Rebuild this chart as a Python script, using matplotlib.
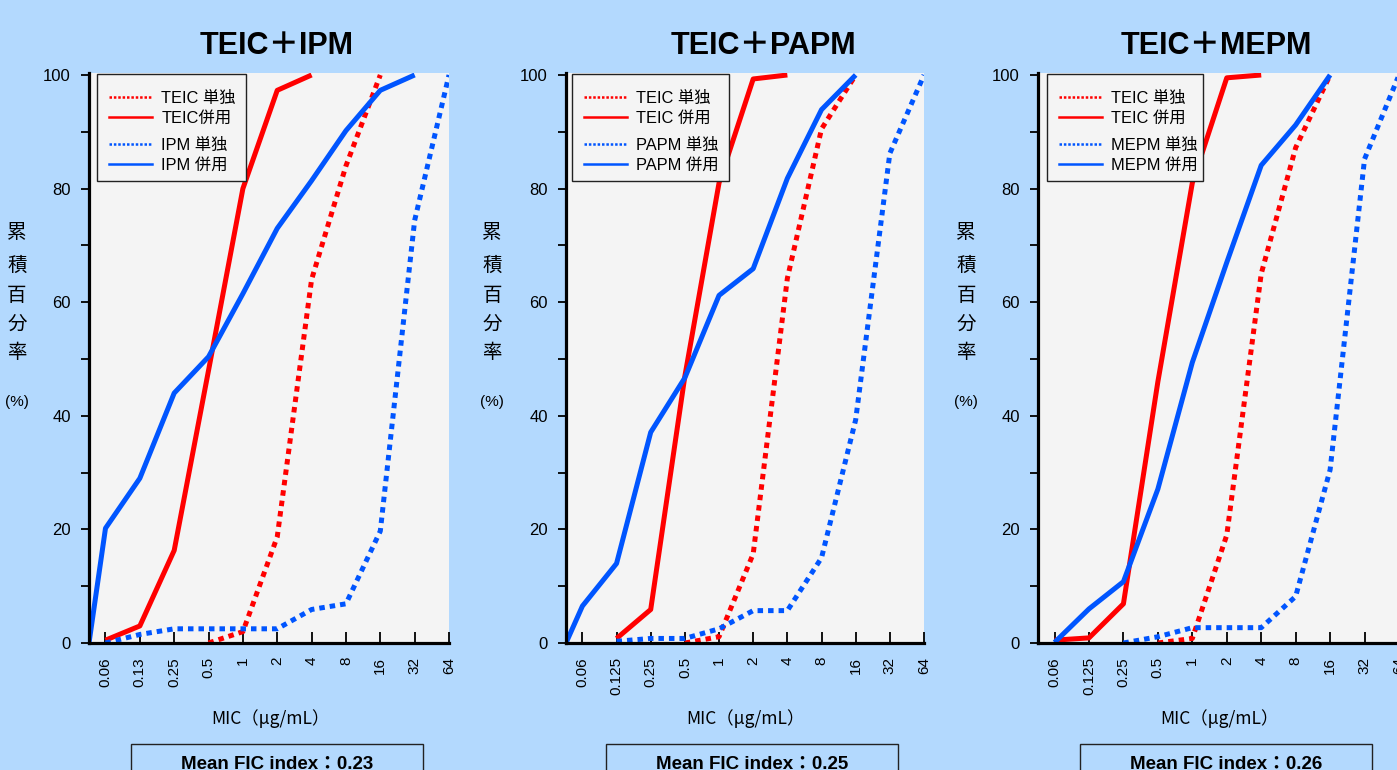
import numpy as np
import matplotlib.pyplot as plt
from matplotlib.lines import Line2D
from matplotlib.patches import Rectangle

plt.rcParams['font.family'] = ['Liberation Sans', 'Noto Sans CJK JP', 'DejaVu Sans']

W, H = 1397, 770
BG = '#b3d9fe'
PLOT_BG = '#f4f4f4'
RED = '#ff0000'
BLUE = '#0055ff'

nan = np.nan

# x categories, MIC (ug/mL)
ticks_ipm = ['0.06', '0.13', '0.25', '0.5', '1', '2', '4', '8', '16', '32', '64']
ticks_other = ['0.06', '0.125', '0.25', '0.5', '1', '2', '4', '8', '16', '32', '64']

# cumulative % ; first value sits on the y axis, then one value per category
ipm_teic_alone = [nan, nan, nan, nan, 0, 2, 18.7, 64, 84, 100, nan, nan]
ipm_teic_combo = [nan, 0.5, 3, 16.3, 48, 80, 97.3, 100, nan, nan, nan, nan]
ipm_alone = [nan, 0, 1.5, 2.5, 2.5, 2.5, 2.5, 5.9, 6.9, 19.7, 74.4, 100]
ipm_combo = [0, 20.2, 29, 44, 50.4, 61.5, 73, 81.4, 90.2, 97.3, 100, nan]

papm_teic_alone = [nan, nan, nan, nan, 0, 1.1, 15.7, 64.2, 90.5, 100, nan, nan]
papm_teic_combo = [nan, nan, 0.8, 5.9, 47, 81, 99.3, 100, nan, nan, nan, nan]
papm_alone = [nan, nan, 0.3, 0.8, 0.8, 2.5, 5.7, 5.7, 15, 39.3, 86.2, 100]
papm_combo = [0, 6.5, 14, 37.1, 46.7, 61.2, 65.9, 81.8, 93.9, 100, nan, nan]

mepm_teic_alone = [nan, nan, nan, nan, 0, 0.8, 19, 65, 87.2, 100, nan, nan]
mepm_teic_combo = [nan, 0.5, 0.9, 6.9, 46, 81, 99.5, 100, nan, nan, nan, nan]
mepm_alone = [nan, nan, nan, 0, 1.1, 2.7, 2.7, 2.7, 8.2, 30.5, 85.2, 100]
mepm_combo = [nan, 0.1, 6, 10.8, 27.1, 49.4, 67, 84.1, 91.2, 100, nan, nan]

drugs = ['IPM', 'PAPM', 'MEPM']
titles = ['TEIC＋IPM', 'TEIC＋PAPM', 'TEIC＋MEPM']
teic_labels = ['TEIC併用', 'TEIC 併用', 'TEIC 併用']
fic = ['0.23', '0.25', '0.26']
tick_sets = [ticks_ipm, ticks_other, ticks_other]
series = [
    (ipm_teic_alone, ipm_teic_combo, ipm_alone, ipm_combo),
    (papm_teic_alone, papm_teic_combo, papm_alone, papm_combo),
    (mepm_teic_alone, mepm_teic_combo, mepm_alone, mepm_combo),
]

# layout in pixels
lefts = [89, 566, 1038]
widths = [360, 358, 361]
top, bottom = 73, 643
title_x = [277, 763, 1216]
xlabel_x = [270, 745, 1219]
ylabel_x = [17, 492, 966]
leg_off = [8, 6, 9]
leg_w = [149, 157, 156]
box_off = [42, 40, 42]

X0 = 0.52

fig = plt.figure(figsize=(W / 100, H / 100), dpi=100, facecolor=BG)


def fx(px):
    return px / W


def fy(py):
    return 1 - py / H


dot = (0, (1.1, 1.0))
for i in range(3):
    left = lefts[i]
    ax = fig.add_axes([fx(left), fy(bottom), widths[i] / W, (bottom - top) / H])
    ax.set_facecolor(PLOT_BG)
    pos = np.arange(1, 12)
    xs = np.concatenate([[X0], pos])
    t_alone, t_combo, d_alone, d_combo = series[i]
    ax.plot(xs, t_alone, color=RED, lw=3.6, ls=dot, dash_capstyle='butt')
    ax.plot(xs, t_combo, color=RED, lw=3.6, solid_capstyle='butt')
    ax.plot(xs, d_alone, color=BLUE, lw=3.6, ls=dot, dash_capstyle='butt')
    ax.plot(xs, d_combo, color=BLUE, lw=3.6, solid_capstyle='butt')

    ax.set_xlim(X0, 11)
    ax.set_ylim(0, 100.35)
    ax.set_xticks(pos)
    ax.set_xticklabels(tick_sets[i], rotation=90, fontsize=11)
    ax.set_yticks(range(0, 101, 20))
    ax.set_yticks(range(10, 100, 20), minor=True)
    ax.tick_params(axis='y', labelsize=12)
    ax.tick_params(axis='x', direction='in', length=8, width=1.3, pad=10)
    ax.tick_params(axis='y', which='both', direction='out', length=6, width=1.3, pad=7)
    for s in ['top', 'right']:
        ax.spines[s].set_visible(False)
    for s in ['left', 'bottom']:
        ax.spines[s].set_linewidth(2.3)

    # legend frame and two groups of entries
    fl = left + leg_off[i]
    ax.add_artist(Rectangle((fx(fl), fy(181)), leg_w[i] / W, 107 / H,
                            transform=fig.transFigure, facecolor=PLOT_BG,
                            edgecolor='#222222', lw=1.0, zorder=4))
    hd = (0, (1.0, 0.75))
    h1 = [Line2D([], [], color=RED, lw=1.8, ls=hd, dash_capstyle='butt'),
          Line2D([], [], color=RED, lw=1.8)]
    h2 = [Line2D([], [], color=BLUE, lw=1.8, ls=hd, dash_capstyle='butt'),
          Line2D([], [], color=BLUE, lw=1.8)]
    common = dict(loc='upper left', bbox_transform=fig.transFigure, frameon=False,
                  borderpad=0, borderaxespad=0, handlelength=2.6, handletextpad=0.6,
                  labelspacing=0.3, fontsize=11.8)
    leg1 = ax.legend(h1, ['TEIC 単独', teic_labels[i]],
                     bbox_to_anchor=(fx(fl + 12), fy(90.5)), **common)
    leg1.set_zorder(5)
    ax.add_artist(leg1)
    leg2 = ax.legend(h2, [drugs[i] + ' 単独', drugs[i] + ' 併用'],
                     bbox_to_anchor=(fx(fl + 12), fy(138)), **common)
    leg2.set_zorder(5)

    # titles and labels
    fig.text(fx(title_x[i]), fy(46), titles[i], fontsize=22, fontweight='bold',
             ha='center', va='center')
    fig.text(fx(xlabel_x[i]), fy(719), 'MIC（μg/mL）', fontsize=12.5,
             family=['Noto Sans CJK JP', 'DejaVu Sans'], ha='center', va='center')
    for ch, yy in zip('累積百分率', [232, 265, 295, 324, 353]):
        fig.text(fx(ylabel_x[i]), fy(yy), ch, fontsize=14,
                 family=['Noto Sans CJK JP', 'DejaVu Sans'], ha='center', va='center')
    fig.text(fx(ylabel_x[i]), fy(402), '(%)', fontsize=11, ha='center', va='center')

    # FIC box
    bl = left + box_off[i]
    fig.add_artist(Rectangle((fx(bl), fy(800)), 292 / W, 56 / H,
                             transform=fig.transFigure, facecolor='none',
                             edgecolor='#222222', lw=1.0, clip_on=False))
    fig.text(fx(bl + 146), fy(756), 'Mean FIC index：' + fic[i], fontsize=13.5,
             fontweight='bold', ha='center', va='top')

fig.savefig('out.png', dpi=100, facecolor=BG)
